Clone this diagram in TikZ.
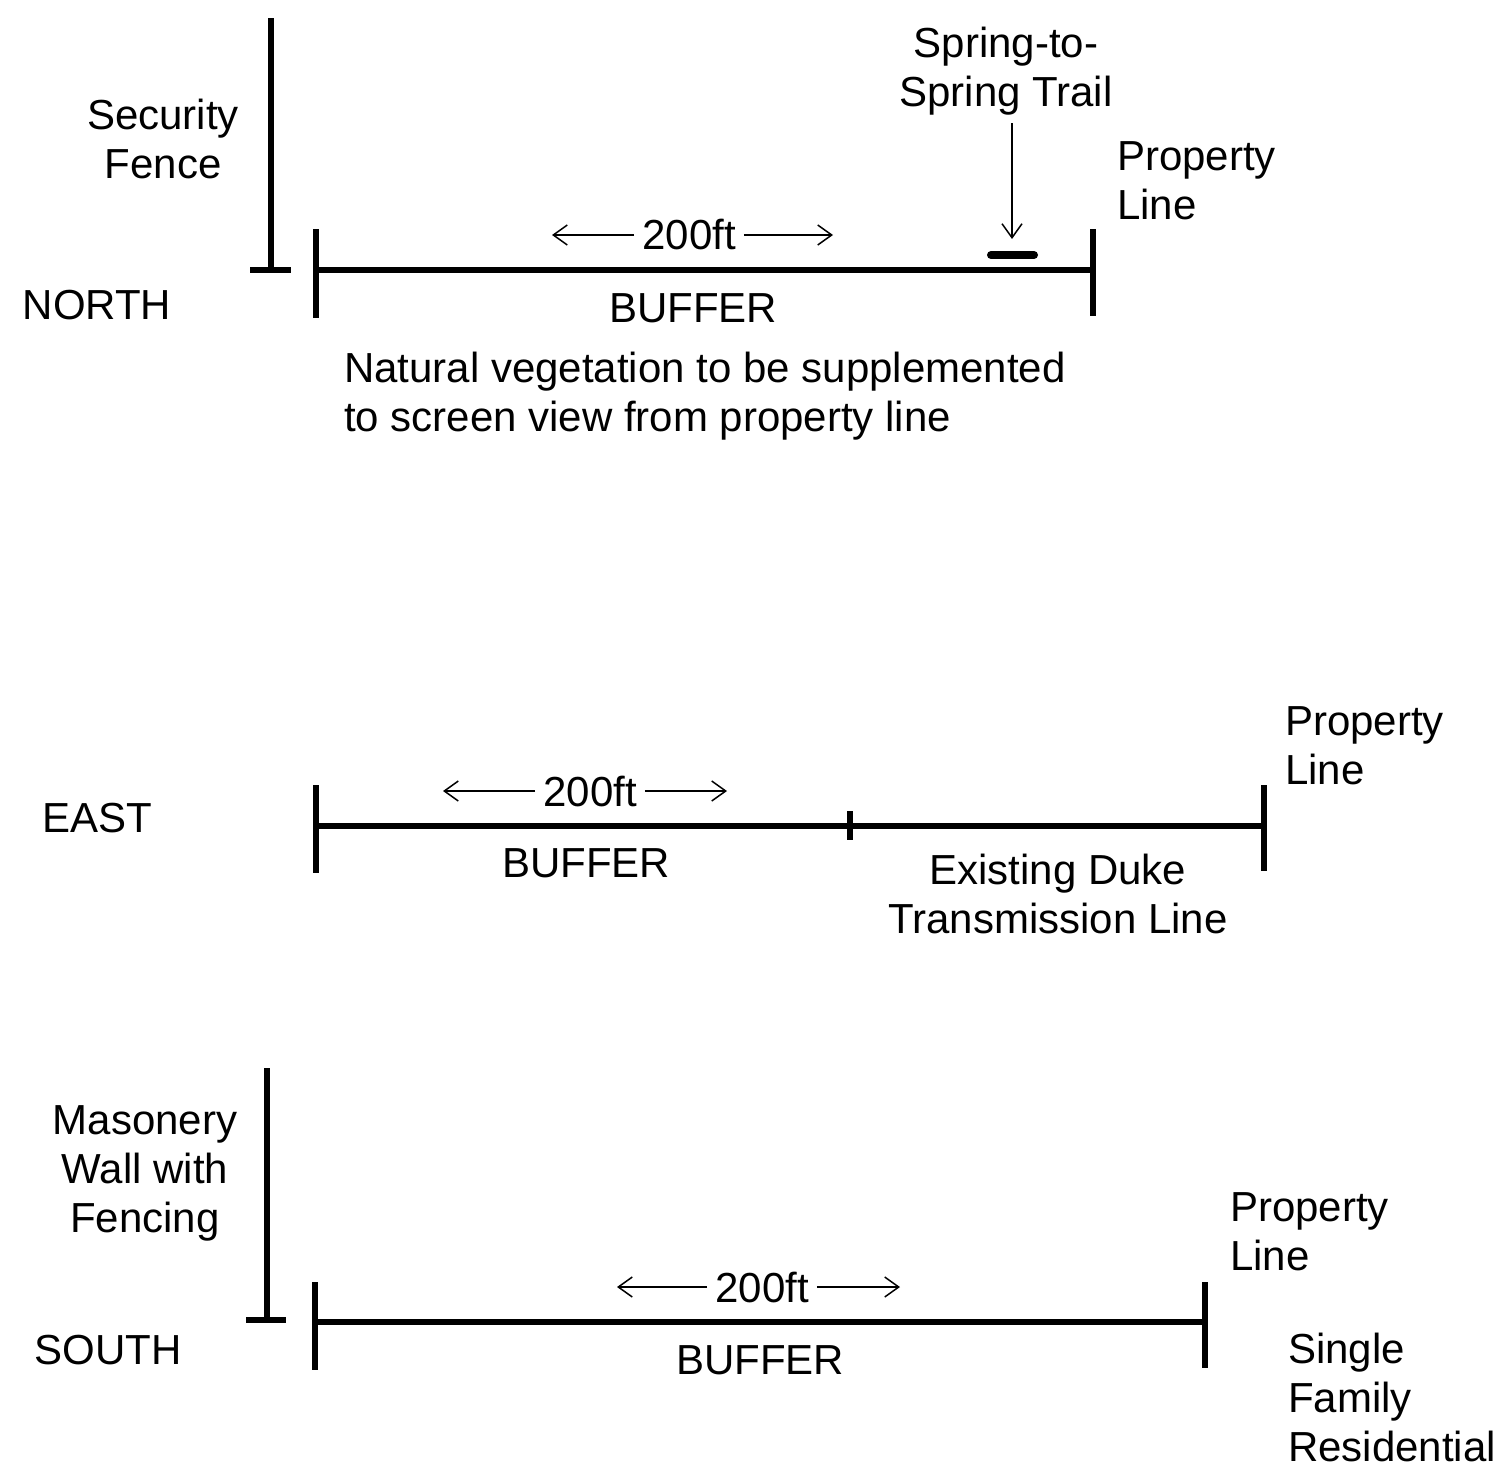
\documentclass[tikz,border=0pt]{standalone}
\usepackage{fontspec}
\setmainfont{Liberation Sans}
\usetikzlibrary{arrows.meta}
\begin{document}
\begin{tikzpicture}[x=1pt,y=-1pt,
  lbl/.style={inner sep=0pt,font=\fontsize{42}{49}\selectfont},
  thick line/.style={line width=5.5pt},
  dim/.style={inner sep=8pt,font=\fontsize{42}{49}\selectfont},
  dimarrow/.style={line width=1.5pt,-{Straight Barb[length=14pt,width=20pt,line width=1.5pt]}},
  trailmark/.style={line width=8pt,line cap=round}
]
\useasboundingbox (0,0) rectangle (1501,1470);
\fill[white] (0,0) rectangle (1501,1470);

% ---------- NORTH ----------
\coordinate (nf1) at (271,18);
\coordinate (nf2) at (271,270);
\coordinate (nfa) at (250,270);
\coordinate (nfb) at (291,270);
\coordinate (nl) at (316,270);
\coordinate (nlt) at (316,229);
\coordinate (nlb) at (316,318);
\coordinate (nr) at (1093,270);
\coordinate (nrt) at (1093,229);
\coordinate (nrb) at (1093,316);
\coordinate (tm1) at (991,255);
\coordinate (tm2) at (1034,255);
\coordinate (tmtop) at (1012,239);
\coordinate (nal) at (552,235);
\coordinate (nar) at (833,235);

\draw[thick line] (nf1) -- (nf2);
\draw[thick line] (nfa) -- (nfb);
\draw[thick line] (nlt) -- (nlb);
\draw[thick line] (nl) -- (nr);
\draw[thick line] (nrt) -- (nrb);
\draw[trailmark] (tm1) -- (tm2);

\node[lbl,align=center] (secfence) at (163,139) {Security\\Fence};
\node[lbl] (north) at (97,305) {NORTH};
\node[lbl,align=center] (trail) at (1006,71) {Spring-to-\\Spring Trail};
\node[lbl,align=left,anchor=west] (npl) at (1117,181) {Property\\Line};
\node[dim] (ndim) at (689,235) {200ft};
\node[lbl] (nbuf) at (693,308) {BUFFER};
\node[lbl,align=left,anchor=west] (nveg) at (344,396) {Natural vegetation to be supplemented\\to screen view from property line};

\draw[dimarrow] (ndim.west) -- (nal);
\draw[dimarrow] (ndim.east) -- (nar);
\coordinate (trailtop) at (1012,123);
\draw[dimarrow] (trailtop) -- (tmtop);

% ---------- EAST ----------
\coordinate (el) at (316,826);
\coordinate (elt) at (316,785);
\coordinate (elb) at (316,873);
\coordinate (em) at (850,826);
\coordinate (emt) at (850,811);
\coordinate (emb) at (850,840);
\coordinate (er) at (1264,826);
\coordinate (ert) at (1264,785);
\coordinate (erb) at (1264,871);
\coordinate (eal) at (443,791);
\coordinate (ear) at (727,791);

\draw[thick line] (elt) -- (elb);
\draw[thick line] (el) -- (er);
\draw[thick line] (emt) -- (emb);
\draw[thick line] (ert) -- (erb);

\node[lbl] (east) at (97,818) {EAST};
\node[dim] (edim) at (590,791) {200ft};
\node[lbl] (ebuf) at (586,863) {BUFFER};
\node[lbl,align=left,anchor=west] (epl) at (1285,746) {Property\\Line};
\node[lbl,align=center] (duke) at (1058,894) {Existing Duke\\Transmission Line};

\draw[dimarrow] (edim.west) -- (eal);
\draw[dimarrow] (edim.east) -- (ear);

% ---------- SOUTH ----------
\coordinate (sw1) at (267,1068);
\coordinate (sw2) at (267,1320);
\coordinate (swa) at (246,1320);
\coordinate (swb) at (286,1320);
\coordinate (sl) at (315,1322);
\coordinate (slt) at (315,1282);
\coordinate (slb) at (315,1370);
\coordinate (sr) at (1205,1322);
\coordinate (srt) at (1205,1282);
\coordinate (srb) at (1205,1368);
\coordinate (sal) at (617,1287);
\coordinate (sar) at (900,1287);

\draw[thick line] (sw1) -- (sw2);
\draw[thick line] (swa) -- (swb);
\draw[thick line] (slt) -- (slb);
\draw[thick line] (sl) -- (sr);
\draw[thick line] (srt) -- (srb);

\node[lbl,align=center] (wall) at (145,1173) {Masonery\\Wall with\\Fencing};
\node[lbl] (south) at (108,1350) {SOUTH};
\node[dim] (sdim) at (762,1287) {200ft};
\node[lbl] (sbuf) at (760,1360) {BUFFER};
\node[lbl,align=left,anchor=west] (spl) at (1230,1232) {Property\\Line};
\node[lbl,align=left,anchor=west] (sfr) at (1288,1397) {Single\\Family\\Residential};

\draw[dimarrow] (sdim.west) -- (sal);
\draw[dimarrow] (sdim.east) -- (sar);
\end{tikzpicture}
\end{document}
